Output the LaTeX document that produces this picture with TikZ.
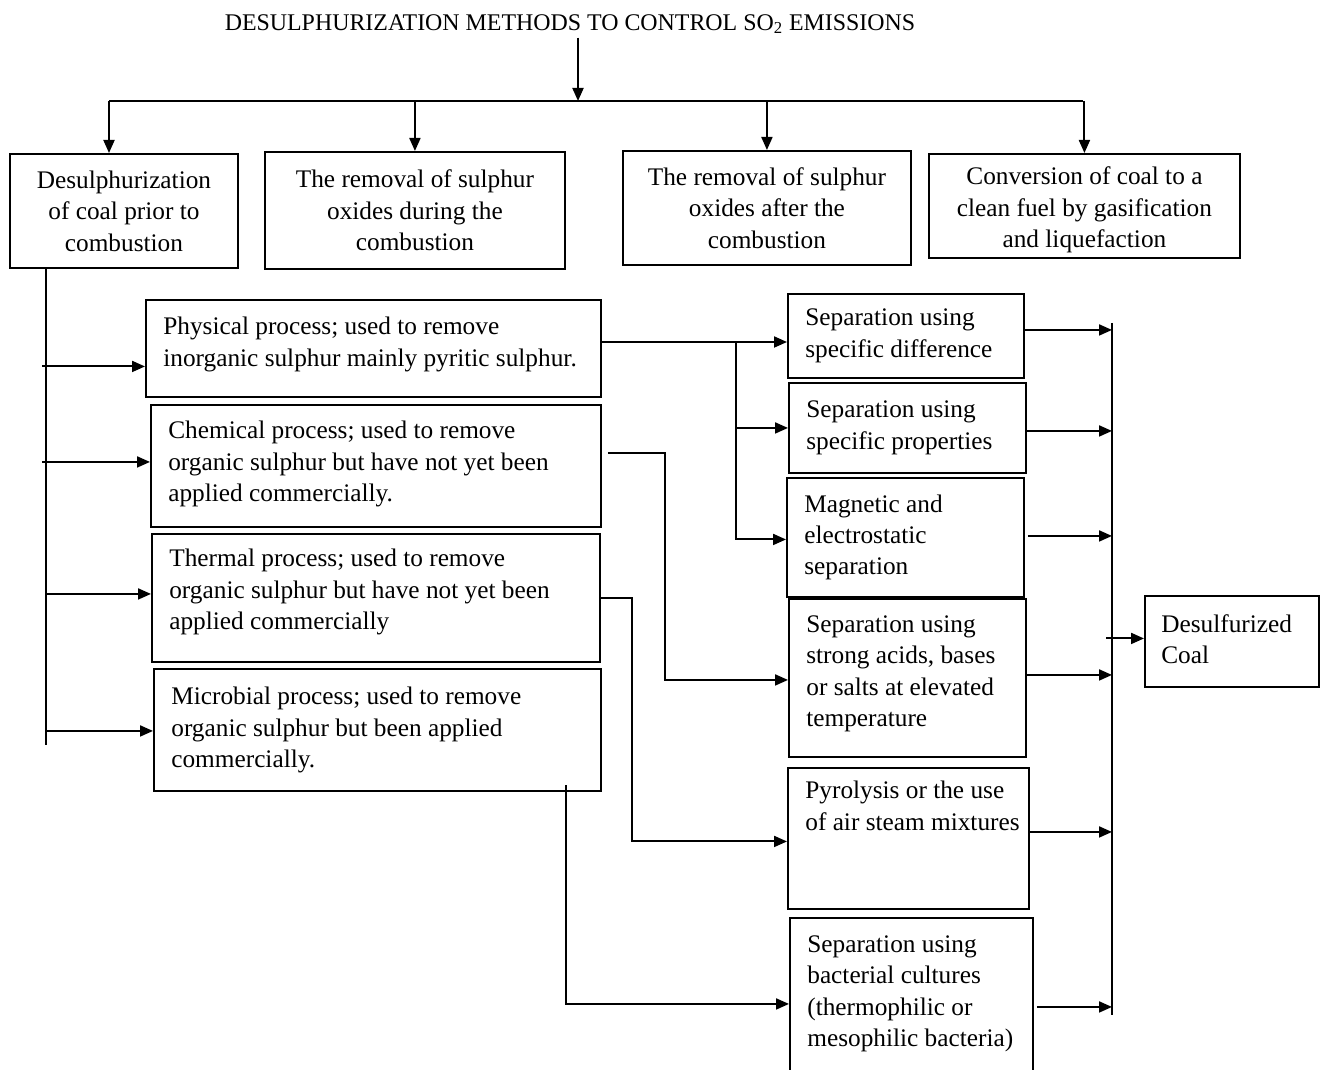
\documentclass[tikz,border=0pt]{standalone}
\usepackage{fontspec}
\setmainfont{Liberation Serif}
\usetikzlibrary{arrows.meta,calc}
\newcommand\bxfont{\fontsize{14.4}{17.9}\selectfont}
\begin{document}
\begin{tikzpicture}[x=0.02cm,y=-0.02cm,
  box/.style={draw, line width=1.1pt, inner sep=0pt, anchor=north west},
  ctext/.style={align=center, font=\bxfont},
  ltext/.style={anchor=west, align=left, inner xsep=0.36cm, inner ysep=0pt, font=\bxfont},
  link/.style={line width=1.1pt},
  arr/.style={line width=1.1pt, -{Triangle[length=0.26cm,width=0.22cm]}}]
\fill[white] (0,0) rectangle (1321,1070);
\useasboundingbox (0,0) rectangle (1321,1070);

% title
\node[font=\fontsize{13.6}{16}\selectfont, inner sep=2pt] (title) at (570,24)
  {DESULPHURIZATION METHODS TO CONTROL SO\textsubscript{2} EMISSIONS};

% top boxes
\node[box, ctext, minimum width=4.56cm, minimum height=2.28cm] (t1) at (9,153)
  {Desulphurization\\of coal prior to\\combustion};
\node[box, ctext, minimum width=6.00cm, minimum height=2.34cm] (t2) at (264,151)
  {The removal of sulphur\\oxides during the\\combustion};
\node[box, ctext, minimum width=5.76cm, minimum height=2.28cm] (t3) at (622,150)
  {The removal of sulphur\\oxides after the\\combustion};
\node[box, minimum width=6.22cm, minimum height=2.08cm] (t4) at (928,153) {};
\node[ctext] (t4t) at ($(t4.center)+(0,4)$)
  {Conversion of coal to a\\clean fuel by gasification\\and liquefaction};

% process boxes
\node[box, minimum width=9.10cm, minimum height=1.94cm] (p) at (145,299) {};
\node[ltext] (pt) at ($(p.west)+(0,-4)$)
  {Physical process; used to remove\\inorganic sulphur mainly pyritic sulphur.};
\node[box, minimum width=9.00cm, minimum height=2.44cm] (c) at (150,404) {};
\node[ltext] (ct) at ($(c.west)+(0,-2)$)
  {Chemical process; used to remove\\organic sulphur but have not yet been\\applied commercially.};
\node[box, minimum width=8.96cm, minimum height=2.56cm] (th) at (151,533) {};
\node[ltext] (tht) at ($(th.west)+(0,-6)$)
  {Thermal process; used to remove\\organic sulphur but have not yet been\\applied commercially};
\node[box, minimum width=8.94cm, minimum height=2.44cm] (m) at (153,668) {};
\node[ltext] (mt) at (m.west)
  {Microbial process; used to remove\\organic sulphur but been applied\\commercially.};

% separation boxes
\node[box, minimum width=4.72cm, minimum height=1.68cm] (s1) at (787,293) {};
\node[ltext] (s1t) at (s1.west) {Separation using\\specific difference};
\node[box, minimum width=4.74cm, minimum height=1.80cm] (s2) at (788,382) {};
\node[ltext] (s2t) at (s2.west) {Separation using\\specific properties};
\node[box, minimum width=4.74cm, minimum height=2.38cm] (s3) at (786,477) {};
\node[ltext] (s3t) at (s3.west) {Magnetic and\\electrostatic\\separation};
\node[box, minimum width=4.74cm, minimum height=3.16cm] (s4) at (788,598) {};
\node[ltext] (s4t) at ($(s4.west)+(0,-4)$) {Separation using\\strong acids, bases\\or salts at elevated\\temperature};
\node[box, minimum width=4.82cm, minimum height=2.82cm] (s5) at (787,767) {};
\node[ltext, anchor=north west, inner ysep=0.28cm] (s5t) at (s5.north west) {Pyrolysis or the use\\of air steam mixtures};
\node[box, minimum width=4.86cm, minimum height=3.16cm] (s6) at (789,917) {};
\node[ltext] (s6t) at ($(s6.west)+(0,-3)$) {Separation using\\bacterial cultures\\(thermophilic or\\mesophilic bacteria)};

% result
\node[box, minimum width=3.48cm, minimum height=1.82cm] (d) at (1144,595) {};
\node[ltext, inner xsep=0.34cm] (dt) at ($(d.west)+(0,-2)$) {Desulfurized\\Coal};

% top connectors
\coordinate (hub) at (578,101);
\coordinate (b1) at (109,101);
\coordinate (b4) at (1083,101);
\draw[arr] (title.south -| hub) -- (hub);
\draw[link] (b1) -- (b4);
\draw[arr] (b1) -- (b1 |- t1.north);
\draw[arr] (t2.north |- hub) -- (t2.north);
\draw[arr] (t3.north |- hub) -- (t3.north);
\draw[arr] (t4.north |- hub) -- (t4.north);

% left spine
\coordinate (sp) at (46,745);
\draw[link] (t1.south -| sp) -- (sp);
\draw[arr] ($(p.west)+(-103,18)$) -- ($(p.west)+(0,18)$);
\draw[arr] ($(c.west)+(-108,-4)$) -- ($(c.west)+(0,-4)$);
\draw[arr] ($(th.west)+(-105,-4)$) -- ($(th.west)+(0,-4)$);
\draw[arr] ($(m.west)+(-107,1)$) -- ($(m.west)+(0,1)$);

% processes to separations
\coordinate (j1) at (736,342);
\draw[arr] (p.east |- j1) -- (j1) -- (s1.west |- j1);
\draw[arr] (j1 |- s2.west) -- (s2.west);
\draw[arr] (j1) |- ($(s3.west)+(0,2)$);
\coordinate (j2) at (665,453);
\draw[arr] ($(c.east |- j2)+(6,0)$) -- (j2) |- ($(s4.west)+(0,2)$);
\coordinate (j3) at (632,598);
\draw[arr] (th.east |- j3) -- (j3) |- ($(s5.west)+(0,3)$);
\coordinate (j4) at (566,785);
\draw[arr] (j4) |- ($(s6.west)+(0,7)$);

% collector
\coordinate (ctop) at (1112,323);
\coordinate (cbot) at (1112,1015);
\draw[link] (ctop) -- (cbot);
\draw[arr] ($(s1.east)+(0,-6)$) -- ($(s1.east -| ctop)+(0,-6)$);
\draw[arr] ($(s2.east)+(0,3)$) -- ($(s2.east -| ctop)+(0,3)$);
\draw[arr] ($(s3.east)+(3,-1.5)$) -- ($(s3.east -| ctop)+(0,-1.5)$);
\draw[arr] ($(s4.east)+(0,-3)$) -- ($(s4.east -| ctop)+(0,-3)$);
\draw[arr] ($(s5.east)+(0,-6.5)$) -- ($(s5.east -| ctop)+(0,-6.5)$);
\draw[arr] ($(s6.east)+(3,10)$) -- ($(s6.east -| ctop)+(0,10)$);
\draw[arr] ($(d.west)+(-38,-3)$) -- ($(d.west)+(0,-3)$);
\end{tikzpicture}
\end{document}
